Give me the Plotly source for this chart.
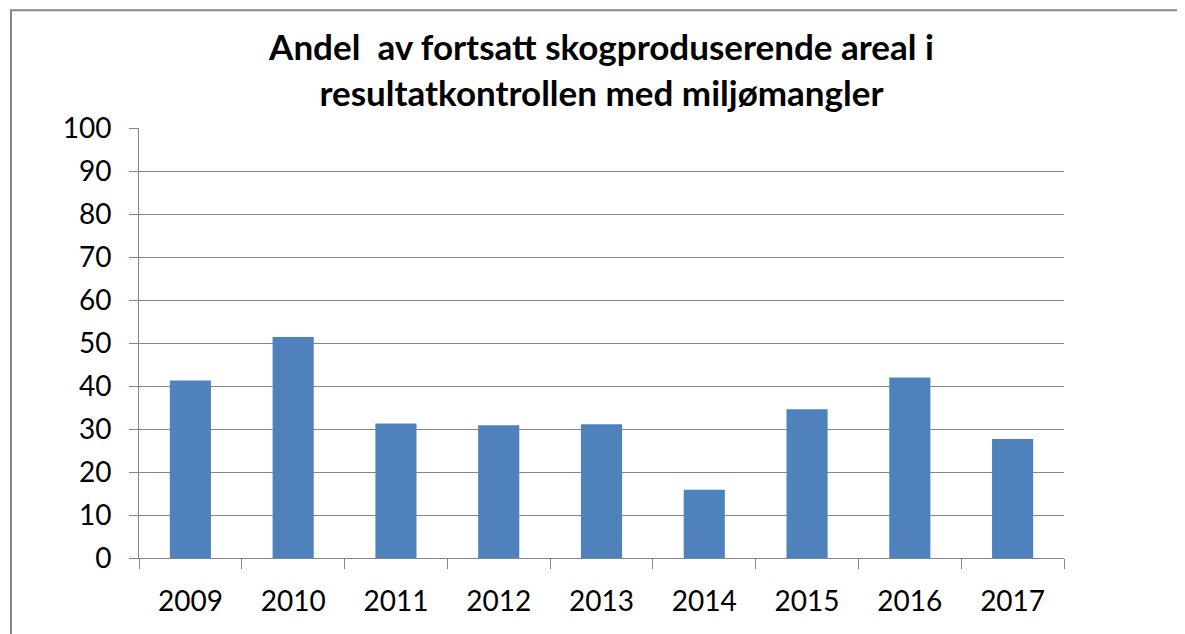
import plotly.graph_objects as go

years = ["2009", "2010", "2011", "2012", "2013", "2014", "2015", "2016", "2017"]
values = [41.3, 51.4, 31.3, 30.9, 31.1, 15.9, 34.6, 42.0, 27.7]
y_ticks = list(range(0, 101, 10))

title_text = "Andel\u00a0 av fortsatt skogproduserende areal i<br>resultatkontrollen med miljømangler"

# the page body adds an 8px offset; positions below compensate for it
OFF = 8
W, H = 1185, 634
L = 139 - OFF
T = 128 - OFF
R = W - (1064 - OFF)
B = H - (558.5 - OFF)
pw, ph = W - L - R, H - T - B

fig = go.Figure(go.Bar(
    x=years, y=values,
    marker=dict(color="#4F81BD", line=dict(width=0)),
))

grey = "#868686"
fig.update_layout(
    width=W, height=H,
    margin=dict(l=L, r=R, t=T, b=B, autoexpand=False),
    paper_bgcolor="white", plot_bgcolor="white",
    bargap=0.6,
    showlegend=False,
    font=dict(family="Lato", color="black"),
    title=dict(text=title_text, x=0.5, xref="paper", xanchor="center",
               y=1 - 52 / H, yref="container", yanchor="top",
               font=dict(family="Lato", size=35, color="black", weight="bold")),
    xaxis=dict(type="category", tickson="boundaries", ticks="outside", ticklen=10,
               tickcolor=grey, showline=True, linecolor=grey, linewidth=1,
               showgrid=False, tickfont=dict(size=28), ticklabelstandoff=18),
    yaxis=dict(range=[0, 100], tickvals=y_ticks, ticks="outside", ticklen=9,
               tickcolor=grey, showline=True, linecolor=grey, linewidth=1,
               showgrid=True, gridcolor=grey, gridwidth=1, zeroline=False,
               tickfont=dict(size=28), ticklabelstandoff=12),
    shapes=[dict(type="rect", xref="paper", yref="paper",
                 x0=(11 - OFF - L) / pw, x1=(W + 20 - L) / pw,
                 y0=-(B + 20) / ph, y1=(H - B - (10 - OFF)) / ph,
                 line=dict(color=grey, width=2), fillcolor="rgba(0,0,0,0)",
                 layer="below")],
)

fig.write_html("out.html")
